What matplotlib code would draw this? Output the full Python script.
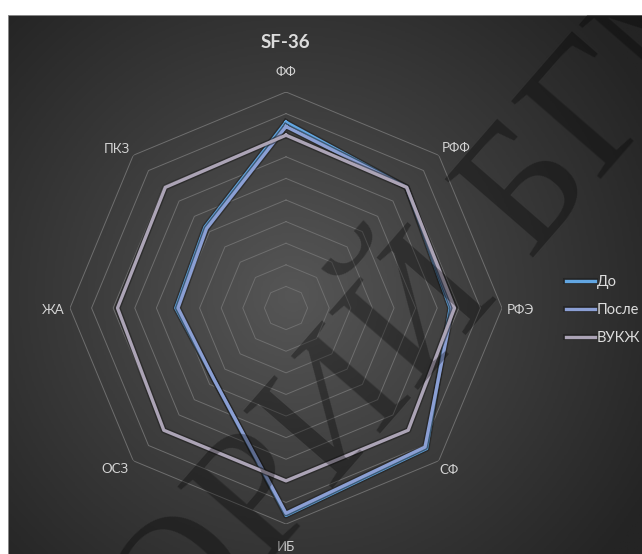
import numpy as np
import matplotlib.pyplot as plt
from matplotlib import patheffects as pe
from matplotlib.colors import LinearSegmentedColormap

# SF-36 scale values (0-100)
categories = ['ФФ', 'РФФ', 'РФЭ', 'СФ', 'ИБ', 'ОСЗ', 'ЖА', 'ПКЗ']
do_vals = [86, 79, 76, 92, 96, 47, 51, 53]
posle_vals = [84, 79, 77, 91, 95, 47, 50, 52]
vukzh_vals = [80, 79, 78, 80, 80, 80, 78, 79]
series_names = ['До', 'После', 'ВУКЖ']
rings = np.arange(10, 101, 10)

plt.rcParams['font.family'] = ['Lato', 'DejaVu Sans']

fig = plt.figure(figsize=(6.42, 5.54), dpi=100)
fig.patch.set_facecolor('white')

# dark panel with radial gradient
bg = fig.add_axes([8/642, 0, 1 - 8/642, 1 - 15/554])
yy, xx = np.mgrid[0:1:300j, 0:1:350j]
dist = np.sqrt(((xx - 0.45) * 1.15)**2 + (yy - 0.52)**2)
cmap = LinearSegmentedColormap.from_list('panel', ['#565656', '#3c3c3c', '#242424'])
bg.imshow(dist, cmap=cmap, vmin=0, vmax=0.75, extent=[0, 1, 0, 1],
          aspect='auto', origin='upper')
bg.set_xticks([])
bg.set_yticks([])
for s in bg.spines.values():
    s.set_color('#9a9a9a')
    s.set_linewidth(0.6)

ax = fig.add_axes([0.109, 0.054, 0.673, 0.780], projection='polar')
ax.patch.set_alpha(0)
ax.set_theta_zero_location('N')
ax.set_theta_direction(-1)
ax.set_ylim(0, 100)
ax.grid(False)
ax.spines['polar'].set_visible(False)
ax.set_xticks([])
ax.set_yticks([])

angles = np.arange(len(categories)) * 2 * np.pi / len(categories)
closed = np.append(angles, angles[0])

for r in rings:
    ax.plot(closed, [r] * len(closed), color='#6e6e6e', lw=0.7, zorder=1)

colors = ['#62a6e2', '#8b9fd4', '#aca4b6']
shadow = [pe.Stroke(linewidth=4.4, foreground='#1c1c1c', alpha=0.55), pe.Normal()]
for name, vals, c in zip(series_names, [do_vals, posle_vals, vukzh_vals], colors):
    ax.plot(closed, vals + vals[:1], color=c, lw=2.4, label=name,
            path_effects=shadow, zorder=3)

# category labels around the outer ring (offsets in px)
lab_off = [(0, 20), (3, 7), (5, -2), (1, -9), (0, -23), (-5, -8), (-5, -2), (-3, 6)]
lab_ha = ['center', 'left', 'left', 'left', 'center', 'right', 'right', 'right']
for a, lab, (dx, dy), ha in zip(angles, categories, lab_off, lab_ha):
    ax.annotate(lab, xy=(a, 100), xytext=(dx * 0.72, dy * 0.72),
                textcoords='offset points', ha=ha, va='center',
                fontsize=9.5, color='#d4d4d4', annotation_clip=False)

fig.text(285/642, 1 - 42/554, 'SF-36', ha='center', va='center',
         fontsize=13.5, fontweight='bold', color='#dcdcdc')

leg = ax.legend(loc='center left', bbox_to_anchor=(566/642, 1 - 310/554),
                bbox_transform=fig.transFigure, frameon=False,
                labelcolor='#dcdcdc', fontsize=10.5, handlelength=2.0,
                handletextpad=0.1, labelspacing=0.95, borderpad=0,
                borderaxespad=0)

# repository watermark
wm = fig.text(221/642, 1 - 550/554, 'РЕПОЗИТОРИЙ БГМУ', rotation=49,
              rotation_mode='anchor', ha='center', va='center',
              fontsize=130, family='Liberation Serif',
              color='black', alpha=0.33, zorder=10)
wm.set_clip_box(bg.bbox)
wm.set_clip_on(True)

fig.savefig('out.png', dpi=100)
